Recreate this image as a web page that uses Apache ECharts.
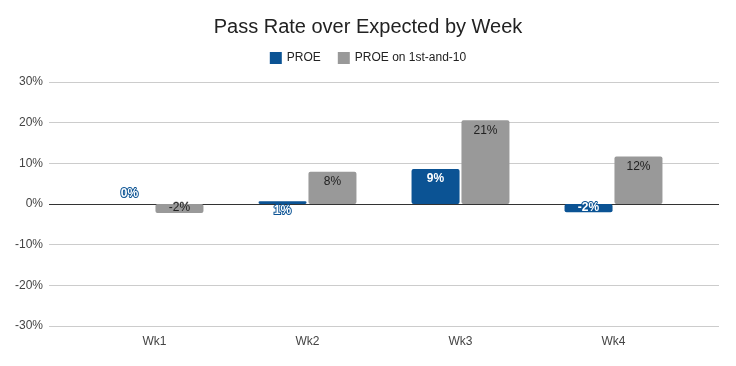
<!DOCTYPE html>
<html>
<head>
<meta charset="utf-8">
<script src="https://cdn.jsdelivr.net/npm/echarts@6/dist/echarts.min.js"></script>
<style>html,body{margin:0;padding:0;background:#fff}#c{width:736px;height:366px}</style>
</head>
<body>
<div id="c"></div>
<script>
const categories = ['Wk1', 'Wk2', 'Wk3', 'Wk4'];
const proe = [0, 0.007, 0.086, -0.02];
const proeFirstTen = [-0.022, 0.079, 0.206, 0.117];
const yTicks = [-0.3, -0.2, -0.1, 0, 0.1, 0.2, 0.3];
const seriesNames = ['PROE', 'PROE on 1st-and-10'];

const FONT = 'Arial, "Liberation Sans", sans-serif';
const pct = v => Math.round(v * 100) + '%';

// label placement overrides for small bars (style only)
const proeLabelPos = [
  { position: 'top', distance: 4 },
  { position: 'bottom', distance: 1 },
  null,
  { position: 'top', distance: -10 }
];
const firstTenLabelPos = [
  { position: 'top', distance: -10 },
  null, null, null
];

function build(values, overrides) {
  return values.map((v, i) => overrides[i] ? { value: v, label: overrides[i] } : { value: v });
}

const chart = echarts.init(document.getElementById('c'), null, { renderer: 'canvas' });
chart.setOption({
  animation: false,
  textStyle: { fontFamily: FONT },
  title: {
    text: 'Pass Rate over Expected by Week',
    left: 'center', top: 12,
    textStyle: { fontFamily: FONT, fontSize: 20, fontWeight: 'normal', color: '#222' }
  },
  legend: {
    top: 47, left: 'center',
    itemWidth: 12, itemHeight: 12, itemGap: 17,
    icon: 'rect',
    textStyle: { fontFamily: FONT, fontSize: 12, color: '#222' },
    data: seriesNames
  },
  grid: [
    { left: 49, right: 17, top: 82, bottom: 40 },
    { left: 78, right: 46, top: 82, bottom: 40 }
  ],
  xAxis: [
    { type: 'category', gridIndex: 0, data: categories, show: false },
    {
      type: 'category', gridIndex: 1, data: categories,
      axisLine: { show: false }, axisTick: { show: false },
      axisLabel: { fontFamily: FONT, fontSize: 12, color: '#444', margin: 10 }
    }
  ],
  yAxis: [
    {
      type: 'value', gridIndex: 0, min: yTicks[0], max: yTicks[yTicks.length - 1], interval: 0.1,
      axisLine: { show: false }, axisTick: { show: false },
      axisLabel: { fontFamily: FONT, fontSize: 12, color: '#444', margin: 6, formatter: v => pct(v) },
      splitLine: { lineStyle: { color: ['#cccccc', '#cccccc', '#cccccc', '#333333', '#cccccc', '#cccccc', '#cccccc'], width: 1 } }
    },
    {
      type: 'value', gridIndex: 1, min: yTicks[0], max: yTicks[yTicks.length - 1], interval: 0.1,
      show: false, splitLine: { show: false }
    }
  ],
  series: [
    {
      name: seriesNames[0], type: 'bar', xAxisIndex: 1, yAxisIndex: 1,
      barWidth: 48, barGap: '4%',
      itemStyle: { color: '#0b5394', borderRadius: 2 },
      label: {
        show: true, position: 'insideTop', distance: 4,
        formatter: p => pct(p.value),
        fontFamily: FONT, fontSize: 12, fontWeight: 'bold', color: '#fff',
        textBorderColor: '#0b5394', textBorderWidth: 2
      },
      data: build(proe, proeLabelPos)
    },
    {
      name: seriesNames[1], type: 'bar', xAxisIndex: 1, yAxisIndex: 1,
      barWidth: 48,
      itemStyle: { color: '#999999', borderRadius: 2 },
      label: {
        show: true, position: 'insideTop', distance: 4,
        formatter: p => pct(p.value),
        fontFamily: FONT, fontSize: 12, color: '#222',
        textBorderColor: '#999999', textBorderWidth: 1
      },
      data: build(proeFirstTen, firstTenLabelPos)
    }
  ]
});
</script>
</body>
</html>
